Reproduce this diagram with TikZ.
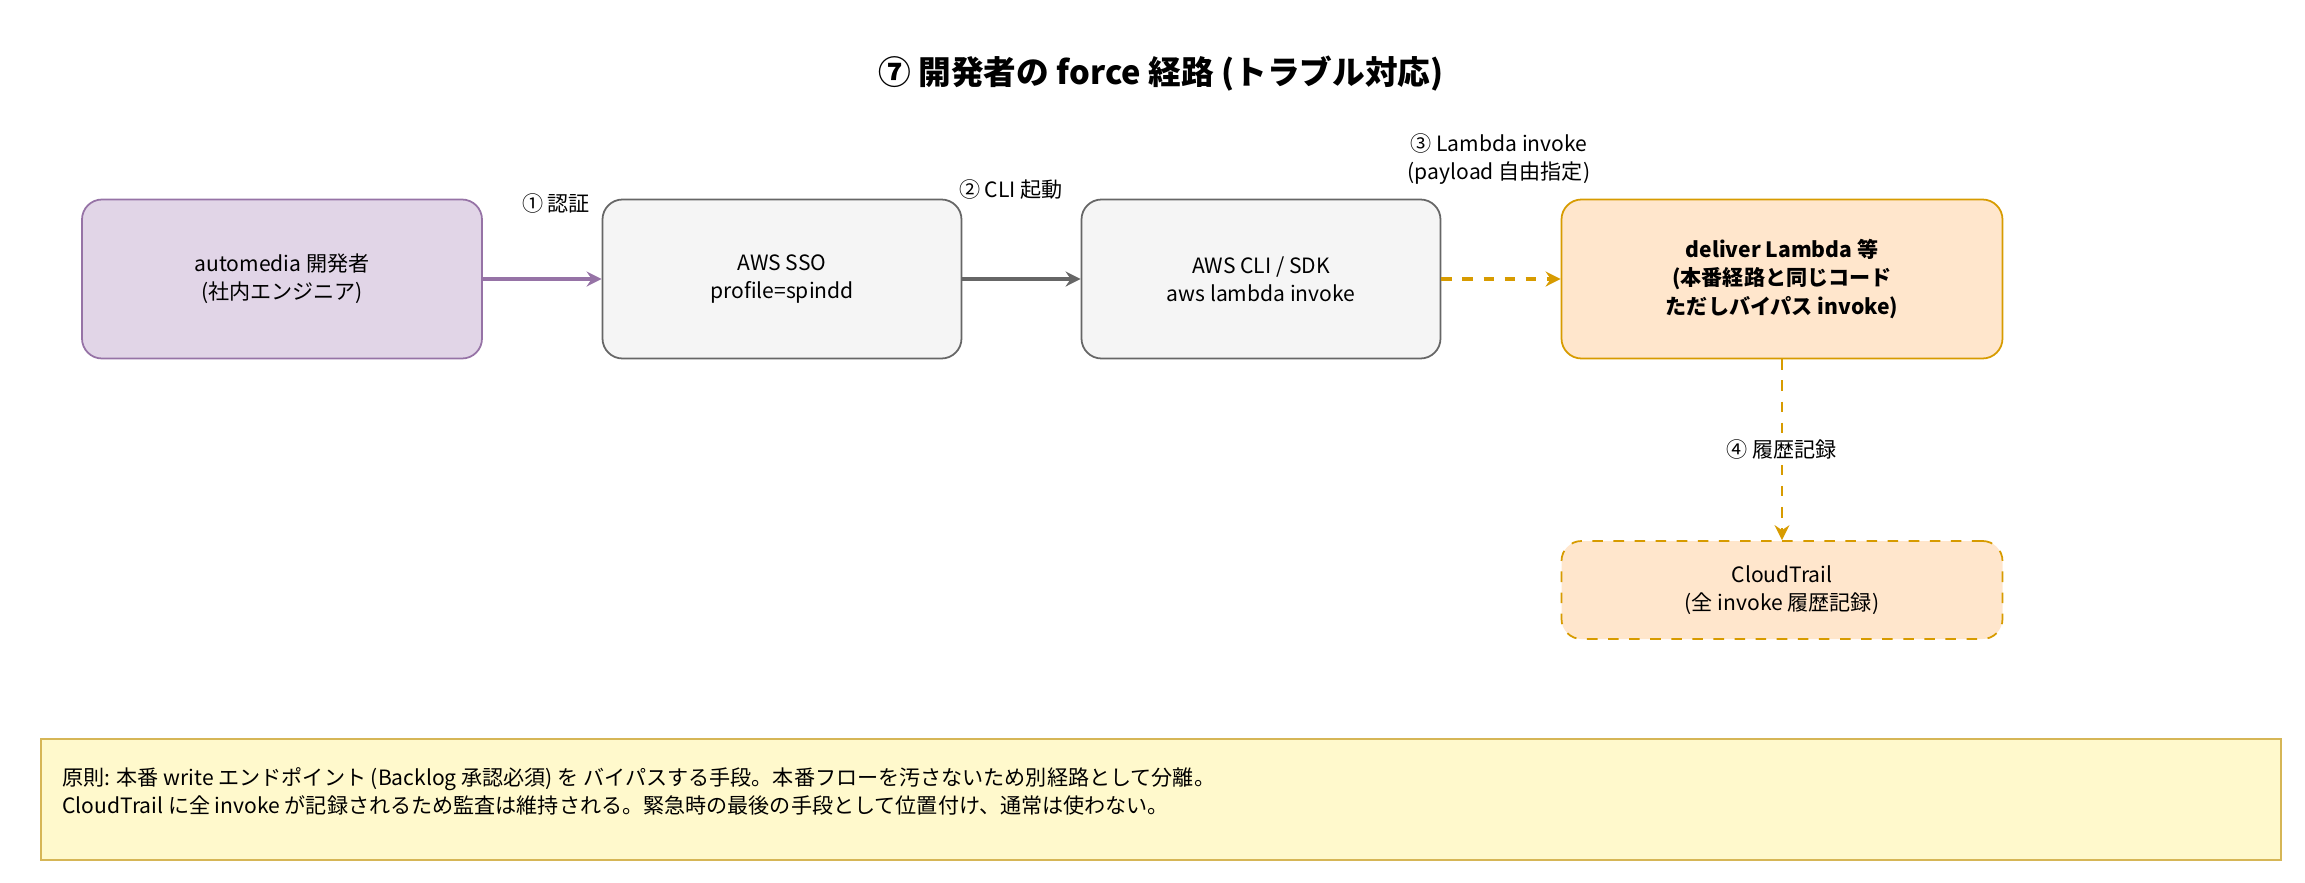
\documentclass[tikz,border=0pt]{standalone}
\usepackage{fontspec}
\setmainfont{Noto Sans CJK JP}
\usetikzlibrary{arrows.meta}
\definecolor{purpfill}{HTML}{E1D5E7}
\definecolor{purpline}{HTML}{9673A6}
\definecolor{greyfill}{HTML}{F5F5F5}
\definecolor{greyline}{HTML}{666666}
\definecolor{orgfill}{HTML}{FFE6CC}
\definecolor{orgline}{HTML}{D79B00}
\definecolor{notefill}{HTML}{FFF9CC}
\definecolor{noteline}{HTML}{D6B656}
\tikzset{
  box/.style={draw, rounded corners=0.2cm, align=center, font=\fontsize{6}{8}\selectfont,
    minimum height=1.59cm, line width=0.5pt},
  lbl/.style={align=center, font=\fontsize{6}{8}\selectfont, fill=white, text=black, inner sep=1pt},
  arr/.style={-{Stealth[length=0.15cm,width=0.15cm,inset=0.05cm]}, line width=0.9pt}
}
\begin{document}
\begin{tikzpicture}
    \useasboundingbox (0cm,0cm) rectangle (23.05cm,-8.83cm);

    \node[font=\bfseries\fontsize{9.3}{11}\selectfont] (title) at (11.61cm,-0.735cm)
    {⑦ 開発者の force 経路 (トラブル対応)};

    \node[box, fill=purpfill, draw=purpline, minimum width=4cm] (dev) at (2.82cm,-2.79cm)
    {automedia 開発者\\(社内エンジニア)};
    \node[box, fill=greyfill, draw=greyline, minimum width=3.59cm] (sso) at (7.82cm,-2.79cm)
    {AWS SSO\\profile=spindd};
    \node[box, fill=greyfill, draw=greyline, minimum width=3.59cm] (cli) at (12.61cm,-2.79cm)
    {AWS CLI / SDK\\aws lambda invoke};
    \node[box, fill=orgfill, draw=orgline, minimum width=4.41cm,
    font=\bfseries\fontsize{6}{8}\selectfont] (lambda) at (17.82cm,-2.79cm)
    {deliver Lambda 等\\(本番経路と同じコード\\ただしバイパス invoke)};
    \node[box, fill=orgfill, draw=orgline, dashed, minimum width=4.41cm,
    minimum height=0.98cm] (trail) at (17.82cm,-5.90cm)
    {CloudTrail\\(全 invoke 履歴記録)};

    \draw[arr, purpline] (dev) -- (sso);
    \draw[arr, greyline] (sso) -- (cli);
    \draw[arr, orgline, dashed] (cli) -- (lambda);
    \draw[arr, orgline, dashed, line width=0.5pt] (lambda) -- (trail)
    node[lbl, pos=0.5] {④ 履歴記録};

    \node[lbl] at (5.56cm,-2.03cm) {① 認証};
    \node[lbl] at (10.11cm,-1.90cm) {② CLI 起動};
    \node[lbl] at (14.99cm,-1.59cm) {③ Lambda invoke\\(payload 自由指定)};

    \draw[draw=noteline, fill=notefill, line width=0.5pt]
    (0.41cm,-7.39cm) rectangle (22.81cm,-8.6cm);
    \node[align=left, anchor=north west, font=\fontsize{6}{8}\selectfont]
    (note) at (0.5cm,-7.55cm)
    {原則: 本番 write エンドポイント (Backlog 承認必須) を バイパスする手段。本番フローを汚さないため別経路として分離。\\
    CloudTrail に全 invoke が記録されるため監査は維持される。緊急時の最後の手段として位置付け、通常は使わない。};
\end{tikzpicture}
\end{document}
